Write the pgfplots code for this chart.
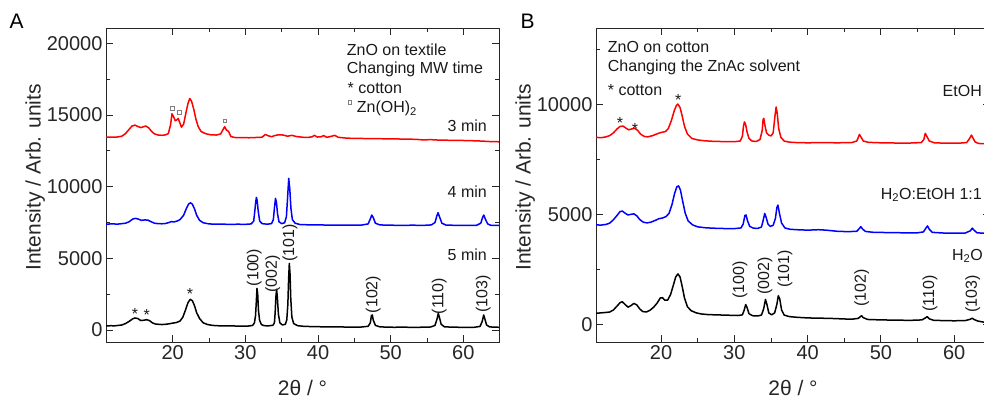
\documentclass[border=0pt]{standalone}
\usepackage{fontspec}
\setmainfont{Liberation Sans}
\usepackage{pgfplots}
\pgfplotsset{compat=1.18}

\pgfplotsset{
  xrd/.style={
    scale only axis, width=393pt, height=314pt,
    axis line style={black!85, line width=0.9pt},
    every tick/.style={black!85, line width=0.9pt},
    major tick length=7pt, minor tick length=4pt,
    tick align=inside,
    scaled y ticks=false, scaled x ticks=false,
    xtick={20,30,40,50,60}, minor xtick={25,35,45,55,65},
    /pgf/number format/assume math mode=true,
    /pgf/number format/1000 sep={},
    tick label style={font=\fontsize{20}{24}\selectfont, text=black!85},
    xlabel={2θ / °}, ylabel={Intensity / Arb. units},
    every axis x label/.style={at={(axis description cs:0.5,-0.146)}, anchor=center, font=\fontsize{21}{25}\selectfont, text=black!85},
    every axis y label/.style={at={(axis description cs:-0.18,0.524)}, rotate=90, anchor=center, font=\fontsize{21}{25}\selectfont, text=black!85},
    clip=true,
  },
}
\tikzset{ann/.style={font=\fontsize{16}{19}\selectfont, black!90, inner sep=0pt},
  sq/.style={draw=gray, fill=white, line width=0.6pt, minimum size=3.5pt, inner sep=0pt},
  crv/.style={line width=1.5pt, line join=round}}

\begin{document}
\begin{tikzpicture}[x=1pt,y=1pt]

% ---------------- Panel A ----------------
\begin{axis}[xrd, at={(106pt,57pt)}, anchor=south west,
  xmin=10.82, xmax=64.91, ymin=-837, ymax=21067,
  ytick={0,5000,10000,15000,20000}, minor ytick={2500,7500,12500,17500}]
% 5 min
\addplot[black, crv] coordinates {
(10.8,280)(11.5,300)(12,290)(12.5,320)(13,350)(13.5,450)(14,600)(14.5,780)(14.8,840)(15.2,800)(15.6,660)(16,680)(16.4,720)(16.8,660)(17.2,500)(17.6,420)(18,400)(18.5,380)(19,400)(19.5,430)(20,480)(20.5,520)(21,620)(21.4,900)(21.8,1450)(22.1,1900)(22.4,2140)(22.7,2050)(23,1700)(23.3,1200)(23.7,800)(24.2,500)(24.8,380)(25.5,320)(26.5,290)(27.5,280)(28.5,280)(29.5,270)(30.5,280)(31.0,320)(31.25,500)(31.4,1000)(31.5,1900)(31.6,2900)(31.7,2500)(31.8,1400)(31.95,700)(32.2,380)(32.6,300)(33.2,290)(33.8,330)(34.0,500)(34.1,1200)(34.2,2300)(34.3,2840)(34.4,2300)(34.55,1100)(34.75,500)(35.1,350)(35.5,400)(35.7,700)(35.85,1800)(35.95,3500)(36.05,4650)(36.15,3900)(36.25,2200)(36.4,900)(36.65,450)(37.2,300)(38,260)(39,240)(40,230)(41,220)(42,210)(43,220)(44,200)(45,200)(46,210)(46.9,260)(47.2,500)(47.35,1000)(47.47,1050)(47.6,700)(47.9,320)(48.5,220)(49.5,200)(50.5,190)(51.5,200)(52.5,190)(53.5,180)(54.5,200)(55.5,210)(56.1,320)(56.4,800)(56.55,1160)(56.7,900)(56.95,400)(57.4,220)(58.5,200)(59.5,190)(60.5,190)(61.5,190)(62.3,250)(62.6,600)(62.8,1050)(62.95,800)(63.2,350)(63.6,220)(64.2,200)(64.9,190)};
% 4 min
\addplot[blue, crv] coordinates {
(10.8,7380)(11.5,7400)(12.5,7390)(13.5,7450)(14,7550)(14.5,7740)(14.9,7790)(15.3,7730)(15.7,7650)(16.2,7680)(16.6,7660)(17,7560)(17.5,7450)(18,7420)(18.5,7410)(19,7430)(19.5,7500)(19.8,7560)(20.2,7540)(20.6,7600)(21,7700)(21.5,8000)(21.9,8500)(22.2,8800)(22.45,8870)(22.7,8780)(23,8450)(23.3,8000)(23.7,7650)(24.2,7480)(25,7400)(26,7380)(27,7380)(28,7370)(29,7380)(30,7370)(30.8,7400)(31.15,7600)(31.3,8300)(31.42,8900)(31.52,9250)(31.62,9050)(31.77,8300)(31.97,7600)(32.3,7420)(33,7380)(33.6,7420)(33.85,7700)(34.02,8600)(34.15,9180)(34.28,8900)(34.43,8100)(34.63,7550)(35.0,7420)(35.4,7480)(35.65,7900)(35.82,9300)(35.97,10580)(36.12,9800)(36.27,8500)(36.47,7700)(36.85,7450)(37.5,7360)(38.5,7340)(40,7330)(41.5,7320)(43,7320)(44.5,7310)(46,7320)(46.9,7400)(47.2,7750)(47.4,8020)(47.6,7850)(47.9,7450)(48.5,7330)(50,7310)(51.5,7300)(53,7310)(54.5,7300)(55.6,7330)(56.1,7500)(56.35,7950)(56.52,8180)(56.72,7900)(57.05,7450)(57.6,7320)(59,7300)(60.5,7300)(61.8,7300)(62.4,7450)(62.65,7850)(62.82,8020)(63.02,7750)(63.35,7400)(63.8,7300)(64.9,7290)};
% 3 min
\addplot[red, crv] coordinates {
(10.8,13450)(11.5,13460)(12.3,13460)(13,13520)(13.5,13700)(14,14000)(14.4,14230)(14.8,14290)(15.2,14200)(15.6,14120)(16,14180)(16.3,14230)(16.7,14100)(17.1,13850)(17.5,13680)(18,13600)(18.5,13580)(19,13610)(19.4,13700)(19.7,14300)(19.9,15080)(20.1,14900)(20.35,14600)(20.55,14650)(20.75,14760)(20.95,14500)(21.2,14150)(21.5,14350)(21.8,15100)(22.1,15800)(22.35,16150)(22.6,15950)(22.9,15400)(23.2,14700)(23.5,14200)(23.9,13850)(24.5,13700)(25.2,13620)(26,13600)(26.6,13680)(26.95,14000)(27.15,14180)(27.4,13950)(27.7,13850)(28,13500)(28.5,13430)(29.5,13420)(30.5,13410)(31.5,13430)(32.3,13450)(32.75,13640)(33.1,13560)(33.6,13480)(34.1,13570)(34.6,13620)(35.2,13600)(35.8,13520)(36.4,13580)(37,13500)(37.8,13450)(38.6,13430)(39.2,13480)(39.5,13580)(39.9,13460)(40.4,13480)(40.8,13560)(41.2,13440)(41.9,13520)(42.3,13580)(42.8,13440)(44,13380)(46,13360)(48,13350)(50,13330)(52,13320)(53.5,13300)(54.5,13260)(55.5,13280)(56.5,13250)(57.5,13240)(58.5,13230)(59.5,13230)(60.5,13210)(61.5,13200)(62.5,13180)(63.5,13150)(64.9,13130)};
\end{axis}

% ---------------- Panel B ----------------
\begin{axis}[xrd, at={(596pt,57pt)}, anchor=south west, width=394pt,
  xmin=11.13, xmax=64.88, ymin=-804, ymax=13468,
  ytick={0,5000,10000}, minor ytick={2500,7500,12500}]
% H2O
\addplot[black, crv] coordinates {
(11.1,500)(11.8,520)(12.5,540)(13,560)(13.5,650)(14,830)(14.4,980)(14.7,1030)(15.1,900)(15.5,780)(15.9,850)(16.3,950)(16.7,880)(17.1,700)(17.5,580)(18,560)(18.5,640)(19,780)(19.5,980)(19.9,1200)(20.2,1210)(20.5,1100)(20.9,1100)(21.3,1350)(21.7,1800)(22.0,2150)(22.3,2290)(22.6,2150)(22.9,1700)(23.2,1200)(23.6,800)(24.1,620)(24.8,520)(25.5,470)(26.5,440)(27.5,430)(28.5,420)(29.5,410)(30.5,400)(31.1,430)(31.35,650)(31.55,900)(31.75,750)(32.0,480)(32.5,390)(33.2,380)(33.7,420)(34.0,700)(34.25,1130)(34.45,900)(34.7,520)(35.1,430)(35.5,520)(35.8,900)(36.0,1300)(36.2,1150)(36.45,650)(36.8,420)(37.5,350)(38.5,320)(40,290)(41.5,280)(43,270)(44.5,250)(46,230)(46.9,270)(47.2,350)(47.35,390)(47.6,300)(48.2,220)(50,200)(52,190)(54,180)(55.6,200)(56.1,300)(56.3,350)(56.6,250)(57.2,180)(58.5,170)(60,160)(61.5,170)(62.2,230)(62.45,280)(62.7,220)(63.2,150)(64,100)(64.9,70)};
% H2O:EtOH 1:1
\addplot[blue, crv] coordinates {
(11.1,4520)(11.8,4510)(12.5,4540)(13,4600)(13.5,4750)(14,4950)(14.4,5120)(14.7,5150)(15.1,5050)(15.5,4970)(15.9,5000)(16.3,5020)(16.7,4930)(17.1,4760)(17.6,4640)(18.1,4610)(18.6,4640)(19.2,4720)(19.7,4800)(20.2,4830)(20.7,4900)(21.1,5050)(21.5,5450)(21.85,5950)(22.15,6250)(22.4,6290)(22.65,6100)(22.95,5600)(23.3,5050)(23.7,4700)(24.3,4520)(25,4430)(26,4390)(27,4370)(28,4360)(29,4350)(30,4350)(30.9,4380)(31.2,4550)(31.45,4950)(31.6,4970)(31.8,4700)(32.1,4450)(32.6,4370)(33.2,4360)(33.7,4420)(33.95,4750)(34.15,5040)(34.35,4850)(34.6,4550)(34.9,4450)(35.3,4500)(35.6,4800)(35.8,5300)(35.95,5420)(36.15,5050)(36.45,4600)(36.9,4380)(37.6,4320)(38.5,4300)(40,4280)(41.5,4300)(42.5,4280)(44,4230)(45.5,4210)(46.7,4230)(47.05,4350)(47.25,4440)(47.5,4330)(47.9,4220)(49,4180)(51,4170)(53,4160)(55,4160)(55.8,4200)(56.15,4380)(56.35,4470)(56.6,4320)(57,4180)(58.5,4150)(60,4140)(61.5,4150)(62.2,4250)(62.45,4370)(62.7,4280)(63.1,4160)(64,4140)(64.9,4130)};
% EtOH
\addplot[red, crv] coordinates {
(11.1,8500)(11.8,8480)(12.5,8520)(13,8580)(13.5,8700)(14,8880)(14.4,8990)(14.8,9010)(15.2,8920)(15.6,8840)(16.0,8880)(16.4,8910)(16.8,8820)(17.2,8650)(17.7,8540)(18.2,8520)(18.8,8570)(19.4,8650)(20,8720)(20.6,8760)(21.0,8900)(21.4,9250)(21.8,9700)(22.1,9950)(22.3,10010)(22.6,9850)(22.9,9450)(23.2,9000)(23.6,8650)(24.2,8450)(25,8380)(26,8340)(27,8320)(28,8310)(29,8300)(30,8300)(30.8,8330)(31.1,8550)(31.25,9000)(31.38,9200)(31.53,9100)(31.73,8750)(32,8450)(32.4,8330)(33,8310)(33.5,8400)(33.8,8800)(33.92,9300)(34.02,9360)(34.17,9050)(34.4,8700)(34.7,8600)(35.0,8560)(35.3,8700)(35.52,9400)(35.7,9880)(35.85,9600)(36.05,8900)(36.35,8500)(36.8,8330)(37.5,8280)(38.5,8260)(40,8250)(42,8260)(44,8250)(46,8260)(46.7,8330)(46.92,8500)(47.07,8630)(47.3,8500)(47.6,8330)(48.3,8270)(50,8250)(52,8240)(54,8240)(55.5,8260)(55.85,8400)(56.05,8680)(56.25,8550)(56.6,8330)(57.3,8250)(59,8230)(60.5,8230)(61.7,8260)(62.1,8450)(62.35,8600)(62.55,8470)(62.85,8290)(63.3,8220)(64,8210)(64.9,8200)};
\end{axis}

% ---------------- Annotations ----------------
\node[font=\fontsize{21}{25}\selectfont, inner sep=0pt] at (16.7,378.2) {A};
\node[font=\fontsize{21}{25}\selectfont, inner sep=0pt] at (527.7,378.2) {B};

\node[ann, anchor=base west] at (346.7,343.5) {ZnO on textile};
\node[ann, anchor=base west] at (346.7,325) {Changing MW time};
\node[ann, anchor=base west] at (347.5,305.7) {* cotton};
\node[sq] at (350,296.5) {};
\node[ann, anchor=base west] at (356.7,286.3) {Zn(OH)\textsubscript{2}};
\node[ann, anchor=base east] at (487,267.3) {3 min};
\node[ann, anchor=base east] at (487,201) {4 min};
\node[ann, anchor=base east] at (487,139) {5 min};

\node[ann, anchor=base] at (135,79.8) {*};
\node[ann, anchor=base] at (146.7,78.8) {*};
\node[ann, anchor=base] at (190,99.1) {*};

\node[sq] at (172.3,290.7) {};
\node[sq] at (179.3,286.7) {};
\node[sq] at (225,278) {};

\node[ann, rotate=90] at (254.3,131.5) {(100)};
\node[ann, rotate=90] at (272.7,125) {(002)};
\node[ann, rotate=90] at (290,156) {(101)};
\node[ann, rotate=90] at (373.3,104.5) {(102)};
\node[ann, rotate=90] at (439.3,103) {(110)};
\node[ann, rotate=90] at (483.3,105) {(103)};

\node[ann, anchor=base west] at (607.7,346.3) {ZnO on cotton};
\node[ann, anchor=base west] at (607.7,327.3) {Changing the ZnAc solvent};
\node[ann, anchor=base west] at (607.7,303) {* cotton};
\node[ann, anchor=base east] at (982,302.3) {EtOH};
\node[ann, anchor=base east] at (982,199.7) {H\textsubscript{2}O:EtOH 1:1};
\node[ann, anchor=base east] at (983,139) {H\textsubscript{2}O};

\node[ann, anchor=base] at (620,270.5) {*};
\node[ann, anchor=base] at (635,264.8) {*};
\node[ann, anchor=base] at (678.3,293.1) {*};

\node[ann, rotate=90] at (740,119) {(100)};
\node[ann, rotate=90] at (765,123.2) {(002)};
\node[ann, rotate=90] at (785,129.8) {(101)};
\node[ann, rotate=90] at (861.7,110.7) {(102)};
\node[ann, rotate=90] at (930,105.7) {(110)};
\node[ann, rotate=90] at (972.7,105) {(103)};

\pgfresetboundingbox
\path[use as bounding box] (0,0) rectangle (984,399);
\end{tikzpicture}
\end{document}
